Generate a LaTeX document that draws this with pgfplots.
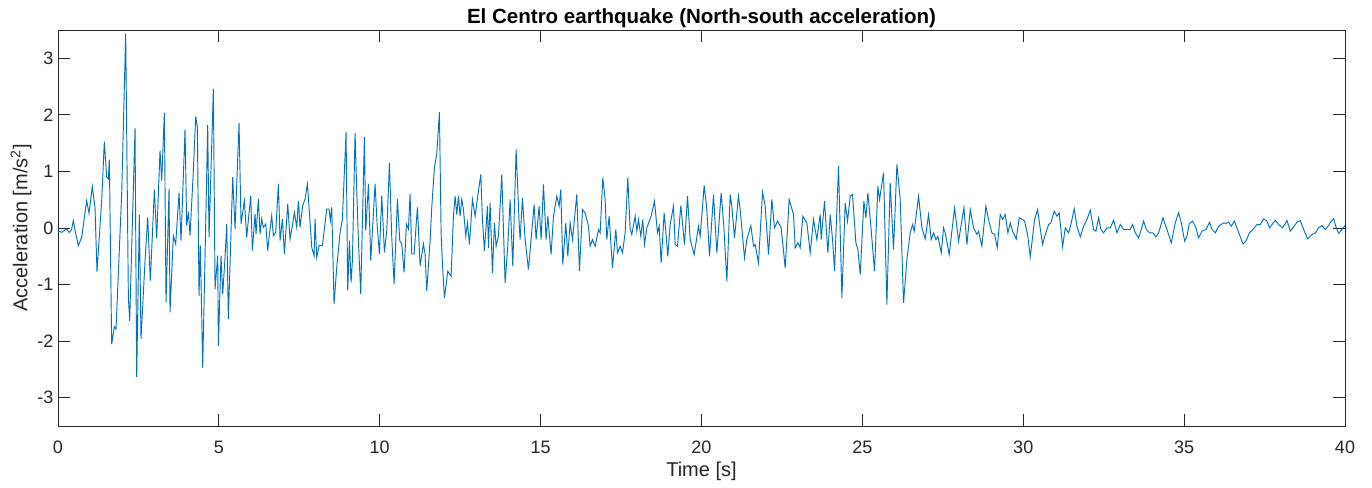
\documentclass[border=0pt]{standalone}
\usepackage{fontspec}
\setmainfont{Liberation Sans}
\usepackage{pgfplots}
\pgfplotsset{compat=1.18}
\definecolor{mblue}{RGB}{0,114,189}
\definecolor{maxis}{RGB}{38,38,38}
\begin{document}
\begin{tikzpicture}
\useasboundingbox (-43.5pt,-46.5pt) rectangle (985.5pt,319.5pt);
\begin{axis}[
  at={(0pt,0pt)}, anchor=south west,
  width=965.25pt, height=297pt, scale only axis,
  xmin=0, xmax=40, ymin=-3.5, ymax=3.5,
  xtick={0,5,...,40}, ytick={-3,-2,-1,0,1,2,3},
  tick align=inside, major tick length=9pt,
  axis line style={maxis, line width=0.6pt},
  every tick/.style={maxis, line width=0.6pt},
  tick label style={font=\fontsize{13.5}{16}\selectfont, text=maxis},
  /pgf/number format/assume math mode=true,
  xticklabel style={anchor=base, yshift=-20.6pt},
  label style={font=\fontsize{15}{18}\selectfont, text=maxis},
  xlabel={Time [s]},
  xlabel style={at={(axis description cs:0.5,-0.1263)}, anchor=base},
  ylabel={Acceleration [m/s\textsuperscript{2}]},
  ylabel style={at={(axis description cs:-0.0287,0.5)}, anchor=center, rotate=0},
  every axis title shift=0pt,
  title={\textbf{El Centro earthquake (North-south acceleration)}},
  title style={font=\fontsize{15.4}{18}\selectfont, at={(axis description cs:0.5,1.0152)}, anchor=base, text=black},
]
\addplot[mblue, line width=0.7pt] table {
t a
0.000 -0.05
0.114 -0.077
0.200 -0.04
0.269 -0.018
0.350 -0.08
0.420 -0.03
0.477 0.13
0.528 -0.035
0.632 -0.313
0.736 -0.165
0.891 0.484
0.964 0.26
1.067 0.732
1.150 0.366
1.212 -0.773
1.358 0.484
1.440 1.528
1.513 0.897
1.565 0.867
1.596 1.209
1.668 -2.053
1.751 -1.746
1.803 -1.788
1.979 0.602
2.104 3.434
2.187 -1.227
2.228 -1.640
2.394 1.764
2.446 -2.631
2.528 0.230
2.580 -1.965
2.705 -0.578
2.788 0.189
2.870 -0.932
2.995 0.678
3.067 -0.183
3.171 1.369
3.223 0.838
3.306 2.035
3.358 -1.316
3.451 0.690
3.482 -1.493
3.585 -0.136
3.658 -0.283
3.762 0.619
3.824 -0.224
3.948 1.740
4.000 0.041
4.052 0.289
4.104 -0.136
4.207 1.015
4.280 1.970
4.332 1.782
4.383 -1.198
4.425 -0.313
4.497 -2.466
4.570 -0.519
4.653 1.823
4.694 -0.165
4.829 2.460
4.881 -1.080
4.964 -0.490
4.984 -2.083
5.067 -0.490
5.119 -1.168
5.192 -0.519
5.244 0.071
5.295 -1.611
5.430 0.897
5.503 -0.018
5.627 1.858
5.689 0.071
5.793 0.484
5.865 -0.165
5.990 0.572
6.041 -0.401
6.124 0.248
6.155 -0.106
6.228 0.513
6.280 -0.106
6.332 0.159
6.383 0.012
6.456 0.071
6.518 -0.401
6.560 -0.165
6.642 0.218
6.694 -0.136
6.767 -0.077
6.850 0.779
6.902 -0.224
6.974 0.159
7.036 -0.460
7.140 0.425
7.212 -0.195
7.285 0.041
7.347 0.277
7.420 0.012
7.472 0.484
7.523 0.012
7.606 0.395
7.679 0.513
7.751 0.779
7.803 0.366
7.886 -0.342
7.959 -0.490
7.990 0.159
8.041 -0.519
8.114 -0.313
8.218 -0.313
8.352 0.336
8.425 0.336
8.466 0.130
8.508 0.366
8.580 -1.345
8.663 -0.696
8.767 -0.077
8.839 0.159
8.953 1.693
9.005 -1.109
9.057 -0.224
9.109 -0.962
9.150 -0.578
9.233 1.676
9.285 0.661
9.337 -0.224
9.409 -1.168
9.523 1.605
9.565 -0.047
9.648 0.779
9.720 -0.578
9.855 0.779
9.917 0.071
9.990 -0.460
10.062 0.572
10.145 -0.431
10.218 -0.047
10.301 1.145
10.373 -0.165
10.446 -0.991
10.549 0.513
10.622 -0.224
10.684 -0.283
10.756 -0.785
10.829 0.071
10.891 -0.018
10.943 0.602
10.995 -0.460
11.067 -0.460
11.171 0.366
11.254 -0.667
11.358 -0.283
11.409 -0.460
11.461 -1.109
11.565 -0.224
11.617 0.366
11.699 1.074
11.772 1.310
11.855 2.047
11.907 -0.086
11.948 -0.617
12.010 -1.236
12.114 -0.764
12.218 -0.853
12.290 0.209
12.342 0.563
12.394 0.239
12.446 0.563
12.497 0.209
12.549 0.504
12.601 0.327
12.674 -0.145
12.725 0.091
12.788 -0.292
12.881 0.504
12.964 0.209
13.067 0.652
13.140 0.947
13.192 0.150
13.254 -0.410
13.347 0.386
13.378 -0.351
13.430 0.445
13.503 -0.794
13.565 0.091
13.617 -0.322
13.689 -0.145
13.793 0.947
13.896 -0.971
13.979 -0.322
14.052 0.504
14.135 -0.676
14.238 1.389
14.332 0.091
14.363 -0.204
14.435 0.534
14.518 -0.204
14.622 -0.735
14.798 0.416
14.860 -0.204
14.953 0.386
15.016 -0.204
15.088 0.770
15.171 -0.204
15.223 0.209
15.326 -0.469
15.399 0.209
15.503 0.563
15.575 0.386
15.627 0.681
15.689 -0.646
15.782 0.091
15.845 -0.499
15.917 0.091
15.990 -0.204
16.124 0.593
16.207 -0.764
16.301 0.327
16.383 0.268
16.487 0.032
16.539 -0.322
16.611 -0.204
16.694 -0.322
16.798 -0.027
16.850 -0.086
16.933 0.888
17.005 0.504
17.057 -0.204
17.130 0.209
17.233 -0.705
17.337 -0.027
17.389 -0.440
17.472 -0.322
17.544 -0.440
17.627 -0.086
17.710 0.888
17.782 -0.027
17.834 -0.115
17.938 0.209
17.990 -0.056
18.041 0.150
18.114 -0.145
18.176 0.150
18.228 -0.292
18.301 0.003
18.435 0.209
18.539 0.475
18.632 -0.086
18.684 0.032
18.746 -0.617
18.839 0.268
18.891 -0.056
18.953 -0.499
19.026 0.062
19.130 0.386
19.181 -0.292
19.254 -0.322
19.358 0.398
19.472 -0.292
19.565 0.563
19.648 -0.204
19.772 -0.469
19.907 0.032
19.959 -0.145
20.083 0.752
20.166 0.327
20.249 -0.499
20.373 0.593
20.477 -0.440
20.611 0.622
20.694 0.032
20.788 -0.941
20.891 0.593
20.943 0.386
21.026 -0.174
21.150 0.563
21.202 0.327
21.337 -0.528
21.409 -0.204
21.534 0.044
21.617 -0.322
21.668 -0.292
21.772 -0.617
21.896 0.634
21.979 0.386
22.083 -0.469
22.187 0.504
22.269 0.003
22.363 0.121
22.477 0.003
22.601 -0.705
22.725 0.504
22.860 0.239
22.912 -0.351
22.995 -0.263
23.067 -0.351
23.150 0.209
23.275 0.091
23.378 -0.440
23.482 0.150
23.585 -0.204
23.689 0.239
23.720 -0.204
23.824 0.475
23.927 -0.440
24.000 0.239
24.073 -0.204
24.135 -0.764
24.259 1.094
24.363 -1.236
24.466 0.445
24.539 0.121
24.622 0.563
24.694 0.593
24.798 -0.263
24.860 -0.381
24.933 -0.823
25.047 0.475
25.109 0.180
25.171 0.622
25.264 0.032
25.378 -0.764
25.482 0.740
25.534 0.504
25.658 0.976
25.762 -1.354
25.865 0.799
25.969 -0.381
26.073 1.124
26.176 0.504
26.280 -1.324
26.383 -0.558
26.487 -0.086
26.560 0.062
26.611 -0.056
26.746 0.563
26.850 0.003
26.953 -0.192
27.057 0.239
27.140 -0.204
27.212 -0.086
27.285 -0.204
27.347 -0.145
27.451 -0.440
27.523 0.003
27.575 -0.086
27.699 -0.469
27.865 0.357
27.990 -0.233
28.155 0.357
28.249 -0.292
28.352 0.327
28.456 0.003
28.560 -0.115
28.611 -0.056
28.715 -0.322
28.839 0.386
28.922 0.150
29.026 -0.086
29.109 -0.115
29.192 -0.351
29.285 0.239
29.358 0.150
29.440 0.239
29.523 -0.086
29.596 0.091
29.668 -0.056
29.782 -0.192
29.876 0.180
29.979 0.150
30.041 0.121
30.135 -0.115
30.218 -0.510
30.352 0.150
30.446 0.327
30.518 0.032
30.601 -0.292
30.684 -0.115
30.788 0.062
30.860 0.091
30.964 0.298
31.047 0.209
31.119 0.268
31.223 -0.333
31.306 0.003
31.409 -0.086
31.492 0.091
31.585 0.339
31.668 0.032
31.772 -0.156
31.876 0.032
31.979 0.150
32.083 0.316
32.187 -0.027
32.259 -0.056
32.342 0.180
32.415 -0.027
32.497 -0.086
32.601 0.003
32.705 0.003
32.808 0.139
32.912 -0.086
33.016 0.062
33.119 -0.027
33.223 -0.027
33.326 -0.027
33.399 0.062
33.482 -0.086
33.585 -0.174
33.668 -0.027
33.741 0.121
33.824 -0.027
33.927 -0.086
34.031 -0.086
34.124 -0.156
34.207 -0.086
34.342 0.180
34.466 -0.027
34.601 -0.263
34.725 0.091
34.829 0.268
34.912 0.091
35.016 -0.233
35.088 -0.145
35.161 0.080
35.264 0.121
35.368 0.003
35.451 -0.174
35.554 -0.056
35.679 -0.027
35.793 0.103
35.865 -0.027
35.969 -0.086
36.073 0.032
36.228 0.091
36.301 0.080
36.383 0.103
36.466 0.032
36.560 0.121
36.642 0.003
36.746 -0.156
36.829 -0.280
36.922 -0.233
37.026 -0.086
37.140 -0.027
37.264 0.062
37.368 0.062
37.472 0.162
37.575 0.121
37.658 0.003
37.751 0.080
37.834 0.133
37.938 0.062
38.062 0.003
38.197 0.133
38.301 -0.056
38.404 0.021
38.508 0.103
38.611 0.133
38.715 -0.027
38.839 -0.192
38.974 -0.115
39.078 -0.086
39.181 0.003
39.285 0.044
39.389 -0.027
39.492 0.044
39.544 0.103
39.648 0.162
39.731 0.003
39.803 -0.097
39.907 -0.027
40.000 0.044
};
\end{axis}
\end{tikzpicture}
\end{document}
